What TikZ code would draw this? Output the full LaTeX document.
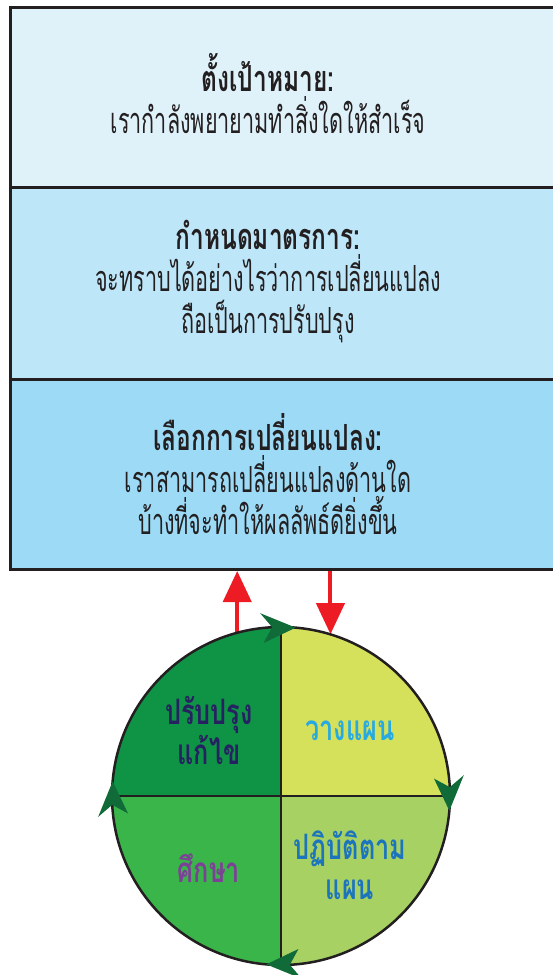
\documentclass[tikz,border=0pt]{standalone}
\usepackage{fontspec}
\newfontfamily\thai[Script=Thai, FakeStretch=0.6]{Loma}
\newfontfamily\thaititle[Script=Thai, FakeStretch=0.68]{Loma}
\newfontfamily\thaiquad[Script=Thai, FakeStretch=0.72]{Loma}
\usetikzlibrary{arrows.meta,calc}
\definecolor{lineblack}{HTML}{231F20}
\definecolor{boxA}{HTML}{DFF2FA}
\definecolor{boxB}{HTML}{BDE6F8}
\definecolor{boxC}{HTML}{9CDAF6}
\definecolor{redarr}{HTML}{ED1C24}
\definecolor{qTL}{HTML}{0F9446}
\definecolor{qTR}{HTML}{D5E05B}
\definecolor{qBL}{HTML}{3AB54A}
\definecolor{qBR}{HTML}{A7D163}
\definecolor{agreen}{HTML}{106B38}
\definecolor{tTL}{HTML}{262262}
\definecolor{tTR}{HTML}{27AAE1}
\definecolor{tBR}{HTML}{1C75BC}
\definecolor{tBL}{HTML}{7E3F98}
\newcommand\cycarrow[1]{\fill[agreen] ($(cyc.center)+(#1:169)$) -- ($(cyc.center)+(#1+11.5:184)$) -- ($(cyc.center)+(#1+8:169)$) -- ($(cyc.center)+(#1+11.5:154)$) -- cycle;}
\newcommand\ptitle[1]{{\thaititle\bfseries #1}}
\begin{document}
\begin{tikzpicture}[x=1pt,y=1pt,
  panel/.style={draw=lineblack, line width=3pt, minimum width=570pt, anchor=north west, inner sep=0pt},
  paneltext/.style={align=center, text=lineblack, inner sep=0pt, font=\thai\fontsize{36}{42}\selectfont},
  redarrow/.style={draw=redarr, line width=4pt, -{Triangle[length=31pt,width=28pt]}},
  quadtext/.style={align=center, inner sep=0pt, font=\thaiquad\bfseries\fontsize{35}{40}\selectfont},
  divider/.style={draw=lineblack, line width=2pt}
]
\useasboundingbox (0,0) rectangle (552,-975);
% panels
\node[panel, fill=boxA, minimum height=180pt] (b1) at (9,-6) {};
\node[panel, fill=boxB, minimum height=192pt] (b2) at (9,-186) {};
\node[panel, fill=boxC, minimum height=190pt] (b3) at (9,-378) {};
\node[paneltext] (t1) at (268,-94) {\ptitle{ตั้งเป้าหมาย:}\\เรากำลังพยายามทำสิ่งใดให้สำเร็จ};
\node[paneltext] (t2) at (268,-282) {\ptitle{กำหนดมาตรการ:}\\จะทราบได้อย่างไรว่าการเปลี่ยนแปลง\\ถือเป็นการปรับปรุง};
\node[paneltext] (t3) at (268,-474) {\ptitle{เลือกการเปลี่ยนแปลง:}\\เราสามารถเปลี่ยนแปลงด้านใด\\บ้างที่จะทำให้ผลลัพธ์ดียิ่งขึ้น};
% cycle
\node[circle, minimum size=338pt, inner sep=0pt] (cyc) at (281,-796) {};
\draw[redarrow] (cyc.105.8) -- (cyc.105.8 |- b3.south);
\draw[redarrow] (cyc.73.1 |- b3.south) -- (cyc.73.1);
\fill[qTL] (cyc.center) -- (cyc.north) arc[start angle=90, end angle=180, radius=169] -- cycle;
\fill[qTR] (cyc.center) -- (cyc.east) arc[start angle=0, end angle=90, radius=169] -- cycle;
\fill[qBL] (cyc.center) -- (cyc.west) arc[start angle=180, end angle=270, radius=169] -- cycle;
\fill[qBR] (cyc.center) -- (cyc.south) arc[start angle=270, end angle=360, radius=169] -- cycle;
\draw[divider] (cyc.north) -- (cyc.south);
\draw[divider] (cyc.west) -- (cyc.east);
\draw[lineblack, line width=2.5pt] (cyc.center) circle[radius=169];
\cycarrow{85}
\cycarrow{-5}
\cycarrow{265}
\cycarrow{175}
\node[quadtext, text=tTL] (qa) at (209,-730) {ปรับปรุง\\แก้ไข};
\node[quadtext, text=tTR] (qb) at (350,-731) {วางแผน};
\node[quadtext, text=tBR] (qc) at (350,-865) {ปฏิบัติตาม\\แผน};
\node[quadtext, text=tBL] (qd) at (209,-868) {ศึกษา};
\end{tikzpicture}
\end{document}
